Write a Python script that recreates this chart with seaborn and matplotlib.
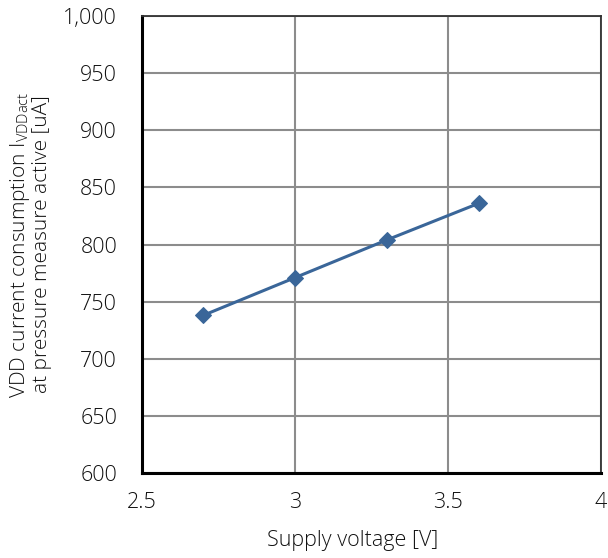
import matplotlib
matplotlib.use("Agg")
import matplotlib.pyplot as plt
import seaborn as sns
import pandas as pd
from matplotlib.ticker import FuncFormatter

# Supply voltage sweep and measured VDD current (active pressure measurement)
voltage = [2.7, 3.0, 3.3, 3.6]
current_ua = [738, 771, 804, 836]

x_ticks = [2.5, 3.0, 3.5, 4.0]
y_ticks = [600, 650, 700, 750, 800, 850, 900, 950, 1000]

sns.set_theme(style="white")
plt.rcParams["font.family"] = ["Open Sans", "DejaVu Sans"]
plt.rcParams["font.weight"] = "light"
plt.rcParams["mathtext.fontset"] = "custom"
plt.rcParams["mathtext.rm"] = "Open Sans:light"
plt.rcParams["mathtext.it"] = "Open Sans:light"

df = pd.DataFrame({"voltage": voltage, "current": current_ua})

fig = plt.figure(figsize=(6.08, 5.58), dpi=100)
ax = fig.add_axes([0.2336, 0.1523, 0.7549, 0.819])

line_color = "#3A6699"
sns.lineplot(data=df, x="voltage", y="current", ax=ax, color=line_color,
             linewidth=2.2, marker="D", markersize=8,
             markeredgecolor=line_color, markerfacecolor=line_color)

ax.set_xlim(2.5, 4.0)
ax.set_ylim(600, 1000)
ax.set_xticks(x_ticks)
ax.set_yticks(y_ticks)
ax.xaxis.set_major_formatter(FuncFormatter(lambda v, p: f"{v:g}"))
ax.yaxis.set_major_formatter(FuncFormatter(lambda v, p: f"{int(v):,}"))

ax.grid(True, color="#8c8c8c", linewidth=1.5)
ax.set_axisbelow(True)

for side in ("left", "bottom"):
    ax.spines[side].set_color("black")
    ax.spines[side].set_linewidth(2.2)
for side in ("top", "right"):
    ax.spines[side].set_color("#333333")
    ax.spines[side].set_linewidth(1.3)

ax.tick_params(axis="both", which="major", direction="in", length=5, width=1.5,
               color="black", labelsize=15.5, labelcolor="#111111")
ax.tick_params(axis="y", pad=18)
ax.tick_params(axis="x", pad=14)

ax.set_xlabel("Supply voltage [V]", fontsize=15.5, color="#111111", labelpad=16,
              fontweight="light")
ax.xaxis.set_label_coords(0.458, -0.125)
ax.set_ylabel("VDD current consumption I$_{\\mathrm{VDDact}}$\nat pressure measure active [uA]",
              fontsize=15, color="#111111", labelpad=8, fontweight="light",
              linespacing=1.0)

fig.savefig("out.png", dpi=100)
